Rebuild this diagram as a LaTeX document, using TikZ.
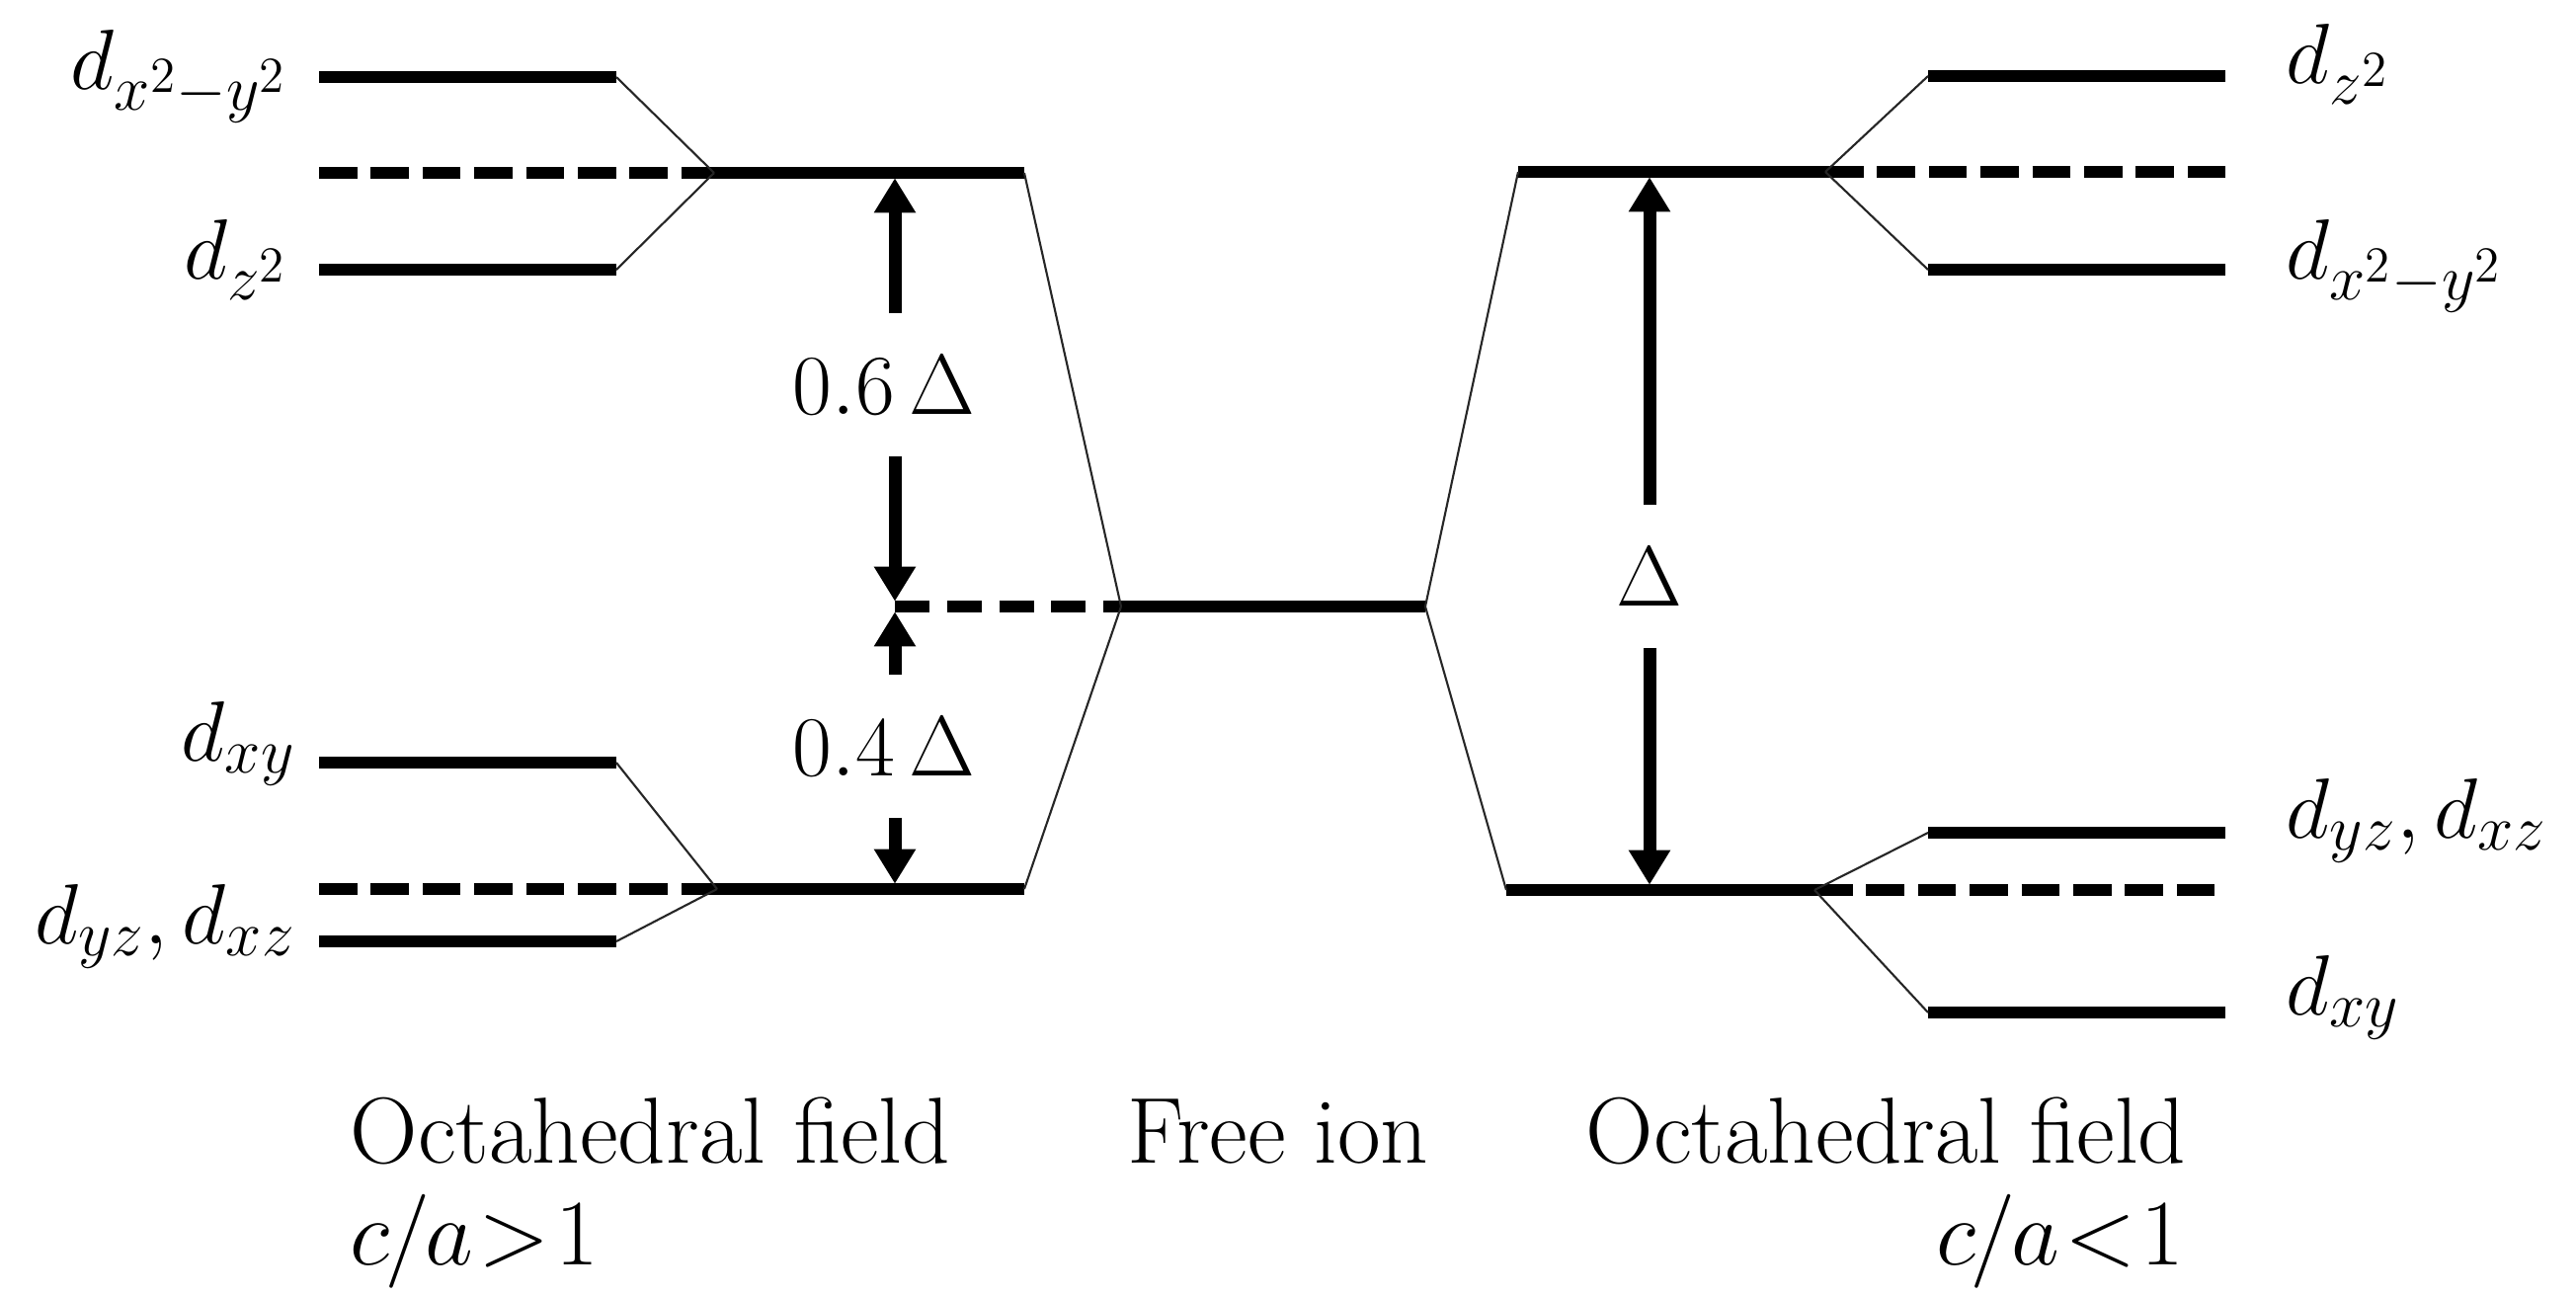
\RequirePackage{fix-cm}
\documentclass[tikz,border=0pt]{standalone}
\usetikzlibrary{arrows.meta}
\DeclareMathSizes{24.6}{24.6}{18.5}{14.5}
\DeclareMathSizes{27}{27}{20}{16}
\begin{document}
\begin{tikzpicture}[x=0.01cm,y=-0.01cm,
  every node/.style={font=\fontsize{24.6}{30}\selectfont, inner sep=0pt},
  caption/.style={font=\fontsize{27}{32}\selectfont},
  lvl/.style={line width=3.4pt},
  dlvl/.style={line width=3.4pt, dash pattern=on 11pt off 3.9pt},
  mdlvl/.style={line width=3.4pt, dash pattern=on 10pt off 5pt},
  conn/.style={line width=0.6pt, black!85},
  arr/.style={line width=3.7pt, -{Triangle[width=11.4pt,length=10pt]}, shorten >=1.5pt},
  gaplabel/.style={inner xsep=0pt, inner ysep=0.42cm}
]
\useasboundingbox (0,0) rectangle (2608,1311);

% ---- left upper group
\coordinate (LA1) at (323,78);   \coordinate (LA2) at (624,78);
\coordinate (LB1) at (323,273);  \coordinate (LB2) at (624,273);
\coordinate (LD1) at (323,175);
\coordinate (UL1) at (723,175);  \coordinate (UL2) at (1037,175);
% ---- left lower group
\coordinate (LC1) at (323,772);  \coordinate (LC2) at (624,772);
\coordinate (LE1) at (323,953);  \coordinate (LE2) at (624,953);
\coordinate (LF1) at (323,900);
\coordinate (LL1) at (726,900);  \coordinate (LL2) at (1037,900);
% ---- free ion
\coordinate (FI1) at (1135,614); \coordinate (FI2) at (1443,614);
% ---- right upper group
\coordinate (UR1) at (1537,174); \coordinate (UR2) at (1848,174);
\coordinate (RA1) at (1952,77);  \coordinate (RA2) at (2253,77);
\coordinate (RB1) at (1952,273); \coordinate (RB2) at (2253,273);
\coordinate (RD2) at (2253,174);
% ---- right lower group
\coordinate (LR1) at (1525,901); \coordinate (LR2) at (1837,901);
\coordinate (RC1) at (1952,843); \coordinate (RC2) at (2253,843);
\coordinate (RE1) at (1952,1025);\coordinate (RE2) at (2253,1025);
\coordinate (RF2) at (2253,901);
% ---- arrow columns
\coordinate (ULa) at (906,175);
\coordinate (FIa) at (906,614);
\coordinate (LLa) at (906,900);
\coordinate (URa) at (1670,174);
\coordinate (LRa) at (1670,901);

% ---- levels
\draw[lvl] (LA1) -- (LA2);
\draw[lvl] (LB1) -- (LB2);
\draw[dlvl] (LD1) -- (UL1);
\draw[lvl] (UL1) -- (UL2);
\draw[lvl] (LC1) -- (LC2);
\draw[lvl] (LE1) -- (LE2);
\draw[dlvl] (LF1) -- (LL1);
\draw[lvl] (LL1) -- (LL2);
\draw[lvl] (FI1) -- (FI2);
\draw[mdlvl] (FIa) -- (FI1);
\draw[lvl] (UR1) -- (UR2);
\draw[lvl] (RA1) -- (RA2);
\draw[lvl] (RB1) -- (RB2);
\draw[dlvl] (UR2) -- (RD2);
\draw[lvl] (LR1) -- (LR2);
\draw[lvl] (RC1) -- (RC2);
\draw[lvl] (RE1) -- (RE2);
\draw[dlvl] (LR2) -- (RF2);

% ---- thin connectors
\draw[conn] (LA2) -- (UL1);
\draw[conn] (LB2) -- (UL1);
\draw[conn] (LC2) -- (LL1);
\draw[conn] (LE2) -- (LL1);
\draw[conn] (UL2) -- (FI1);
\draw[conn] (LL2) -- (FI1);
\draw[conn] (FI2) -- (UR1);
\draw[conn] (FI2) -- (LR1);
\draw[conn] (UR2) -- (RA1);
\draw[conn] (UR2) -- (RB1);
\draw[conn] (LR2) -- (RC1);
\draw[conn] (LR2) -- (RE1);

% ---- level labels
\node[anchor=base east] (tLA) at (292,90)  {$d_{x^2-y^2}$};
\node[anchor=base east] (tLB) at (292,282) {$d_{z^2}$};
\node[anchor=base east] (tLC) at (300,770) {$d_{xy}$};
\node[anchor=base east] (tLE) at (300,955) {$d_{yz}, d_{xz}$};
\node[anchor=base west] (tRA) at (2314,84)   {$d_{z^2}$};
\node[anchor=base west] (tRB) at (2314,282)  {$d_{x^2-y^2}$};
\node[anchor=base west] (tRC) at (2314,848)  {$d_{yz}, d_{xz}$};
\node[anchor=base west] (tRE) at (2314,1027) {$d_{xy}$};

% ---- bottom captions
\node[caption, anchor=base west] (oL) at (354,1177)  {Octahedral field};
\node[caption, anchor=base west] (cL) at (354,1280)  {$c\mkern-1mu/\mkern-1mu a\mkern1mu{>}\mkern1mu1$};
\node[caption, anchor=base]      (fi) at (1294,1177) {Free ion};
\node[caption, anchor=base east] (oR) at (2214,1177) {Octahedral field};
\node[caption, anchor=base east] (cR) at (2212,1280) {$c\mkern-1mu/\mkern-1mu a\mkern1mu{<}\mkern1mu1$};

% ---- splitting labels and arrows
\node[gaplabel] (l06) at (895,389.5) {$0.6\,\Delta$};
\node[gaplabel] (l04) at (895,755.5) {$0.4\,\Delta$};
\node[gaplabel] (lD)  at (1670,583.5) {$\Delta$};

\draw[arr] (l06.north -| ULa) -- (ULa);
\draw[arr] (l06.south -| ULa) -- (FIa);
\draw[arr] (l04.north -| ULa) -- (FIa);
\draw[arr] (l04.south -| ULa) -- (LLa);
\draw[arr] (lD.north) -- (URa);
\draw[arr] (lD.south) -- (LRa);
\end{tikzpicture}
\end{document}
